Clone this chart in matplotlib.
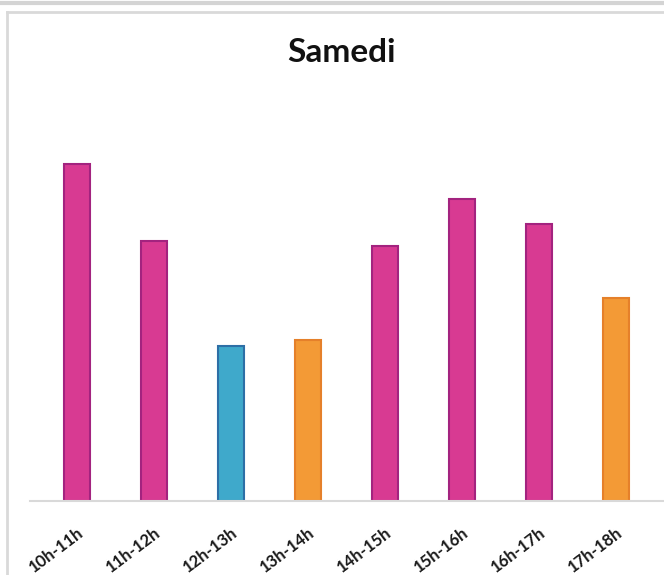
import matplotlib.pyplot as plt
from matplotlib.lines import Line2D
from matplotlib.transforms import ScaledTranslation

creneaux = ["10h-11h", "11h-12h", "12h-13h", "13h-14h",
            "14h-15h", "15h-16h", "16h-17h", "17h-18h"]
valeurs = [337, 260, 155, 161, 255, 302, 277, 203]
couleurs = ["#D83A92", "#D83A92", "#3FA9CB", "#F39A36",
            "#D83A92", "#D83A92", "#D83A92", "#F39A36"]
bords = ["#A3237F", "#A3237F", "#2D6FA6", "#E5802A",
         "#A3237F", "#A3237F", "#A3237F", "#E5802A"]

plt.rcParams['font.family'] = ['Lato', 'DejaVu Sans']

fig = plt.figure(figsize=(6.64, 5.75), dpi=100)

# cadre gris clair autour du graphique
fig.add_artist(Line2D([0, 1], [1 - 2.5 / 575] * 2, color="#d4d4d4", lw=3))
fig.add_artist(Line2D([7 / 664, 1], [1 - 12 / 575] * 2, color="#d9d9d9", lw=2))
fig.add_artist(Line2D([7 / 664] * 2, [0, 1 - 12 / 575], color="#d9d9d9", lw=2))

ax = fig.add_axes([30 / 664, 74 / 575, 634 / 664, 381 / 575])
x = range(len(creneaux))
ax.bar(x, valeurs, width=0.34, color=couleurs, edgecolor=bords, linewidth=1.5)

ax.set_xlim(-47 / 77, 7 + 48 / 77)
ax.set_ylim(0, 381)
ax.set_xticks(list(x))
ax.set_xticklabels(creneaux, rotation=37, ha="right", rotation_mode="anchor",
                   fontsize=12, fontweight="bold", color="#1a1a1a")
decal = ScaledTranslation(7 / 100, 0, fig.dpi_scale_trans)
for lab in ax.get_xticklabels():
    lab.set_transform(lab.get_transform() + decal)
ax.tick_params(axis="x", length=0, pad=17)
ax.set_yticks([])
for s in ["top", "right", "left"]:
    ax.spines[s].set_visible(False)
ax.spines["bottom"].set_color("#d9d9d9")
ax.spines["bottom"].set_linewidth(1.5)

fig.text(341 / 664, 1 - 52 / 575, "Samedi", ha="center", va="center",
         fontsize=24, fontweight="bold", color="#111111")

fig.savefig("out.png", dpi=100)
